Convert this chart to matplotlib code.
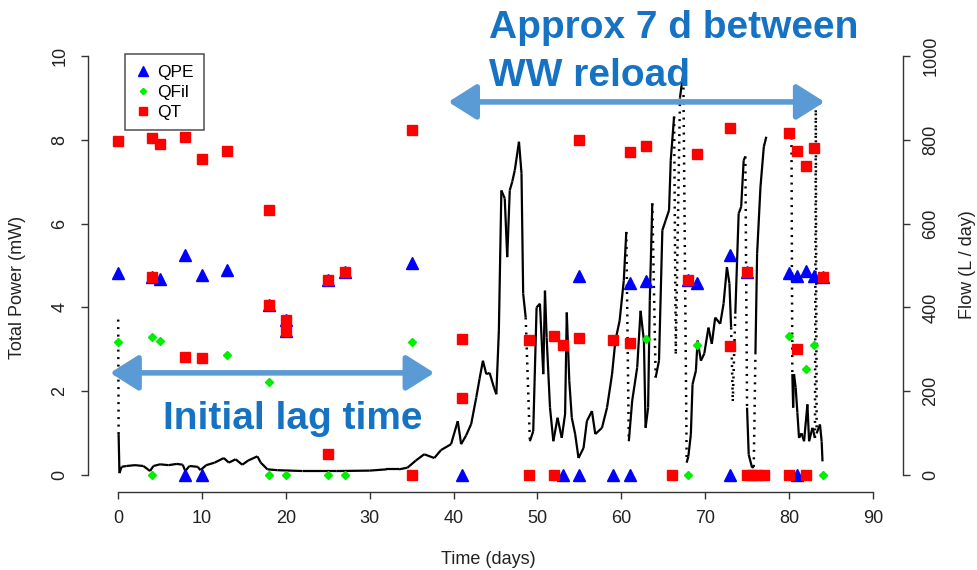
import matplotlib
matplotlib.use("Agg")
import matplotlib.pyplot as plt
from matplotlib.collections import LineCollection
from matplotlib.lines import Line2D

plt.rcParams['font.family'] = ['Liberation Sans', 'DejaVu Sans']

# Scatter series (day, total power in mW)
qpe_day = [0, 4, 5, 8, 8, 10, 10, 13, 18, 20, 20, 25, 27, 35, 41, 53, 55, 55,
           59, 61, 61, 63, 68, 69, 73, 73, 75, 80, 81, 81, 82, 83, 84]
qpe_val = [4.81, 4.72, 4.68, 5.24, 0, 4.78, 0, 4.90, 4.07, 3.71, 3.44, 4.66, 4.84, 5.06, 0, 0, 4.74, 0,
           0, 4.58, 0, 4.62, 4.66, 4.58, 5.24, 0, 4.84, 4.82, 4.74, 0, 4.86, 4.74, 4.72]

qfil_day = [0, 4, 4, 5, 13, 18, 18, 20, 25, 27, 35, 63, 68, 69, 80, 82, 83, 84]
qfil_val = [3.18, 3.30, 0, 3.20, 2.87, 2.23, 0, 0, 0, 0, 3.18, 3.24, 0, 3.10, 3.33, 2.54, 3.10, 0]

qt_day = [0, 4, 4, 5, 8, 8, 10, 10, 13, 18, 18, 20, 20, 25, 25, 27, 35, 35,
          41, 41, 49, 49, 52, 52, 53, 55, 55, 59, 61, 61, 63, 66, 68, 69,
          73, 73, 75, 75, 75.6, 76.2, 77, 80, 80, 81, 81, 82, 82, 83, 84]
qt_val = [7.97, 8.05, 4.72, 7.89, 8.07, 2.82, 7.54, 2.80, 7.74, 6.32, 4.07, 3.71, 3.44, 4.66, 0.50, 4.84, 8.23, 0,
          3.25, 1.83, 3.22, 0, 3.32, 0, 3.11, 7.99, 3.27, 3.22, 7.71, 3.16, 7.85, 0, 4.66, 7.66,
          8.28, 3.07, 4.84, 0, 0, 0, 0, 8.16, 0, 7.73, 3.01, 7.37, 0, 7.81, 4.72]

# Flow series (day, L/day)
flow_day = [0.0, 0.05, 0.15, 0.4, 1.0, 2.0, 3.0, 3.8, 4.2, 5.0, 6.0, 7.0, 7.7, 8.0, 8.5, 9.5, 9.8,
            10.5, 11.5, 12.6, 13.2, 14.0, 14.8, 15.5, 16.6, 17.0, 17.8, 19.0, 22.0, 26.0, 30.0,
            32.0, 33.5, 34.5, 35.5, 36.5, 37.7, 38.5, 39.7, 40.5, 40.9, 41.5, 42.1, 42.7, 43.1,
            43.5, 43.9, 44.3, 44.8, 45.1, 45.4, 45.7, 46.1, 46.4, 46.7, 47.0, 47.3, 47.8, 48.1,
            48.3, 48.6, 49.1, 49.5, 49.9, 50.3, 50.7, 50.9, 51.1, 51.5, 51.9, 52.4, 52.9, 53.3,
            53.5, 53.8, 54.1, 54.5, 54.9, 55.5, 55.9, 56.5, 56.9, 57.7, 58.3, 58.9, 59.3, 59.8,
            60.3, 60.6, 60.9, 61.3, 61.9, 62.3, 62.7, 62.9, 63.2, 63.4, 63.7, 64.1, 64.5, 64.9,
            65.3, 65.7, 65.9, 66.3, 66.5, 67.0, 67.4, 67.8, 68.0, 68.3, 68.5, 68.9, 69.1, 69.5,
            69.9, 70.4, 70.8, 71.2, 71.8, 72.2, 72.6, 72.9, 73.1, 73.3, 73.6, 74.0, 74.3, 74.6,
            74.8, 75.0, 75.2, 75.6, 75.8, 76.0, 76.2, 76.6, 77.0, 77.3, 80.3, 80.4, 80.5, 80.6,
            80.8, 81.0, 81.2, 81.5, 81.8, 82.2, 82.4, 82.8, 83.1, 83.2, 83.3, 83.7, 83.9, 84.0]
flow_val = [371, 98, 5, 20, 22, 24, 22, 10, 22, 26, 24, 27, 25, 10, 22, 20, 12,
            24, 30, 41, 30, 38, 25, 35, 45, 30, 14, 12, 10, 10, 11,
            14, 14, 18, 35, 50, 41, 60, 74, 129, 74, 95, 122, 185, 230,
            273, 241, 244, 210, 193, 344, 679, 660, 520, 679, 700, 727, 795, 720,
            433, 376, 81, 105, 400, 409, 241, 440, 328, 161, 81, 137, 89, 146,
            388, 225, 137, 98, 41, 65, 129, 153, 98, 113, 161, 241, 321, 368,
            464, 580, 81, 177, 257, 392, 321, 113, 161, 416, 648, 233, 273, 584,
            608, 632, 751, 855, 290, 900, 960, 30, 45, 98, 217, 249, 321, 273,
            290, 352, 313, 376, 361, 409, 496, 457, 352, 177, 385, 624, 640, 751,
            760, 161, 49, 18, 20, 289, 528, 687, 783, 807, 805, 241, 161, 241,
            209, 150, 89, 100, 81, 169, 81, 113, 89, 870, 100, 121, 80, 33]
# segments starting at these days are sparse (drawn dotted); the gap one is not drawn
dotted_from = [0.0, 48.6, 60.6, 63.7, 66.3, 66.5, 67.4, 73.1, 73.3, 74.8, 75.8, 80.3, 83.1, 83.2]
gap_from = [77.3]

BLUE_TXT = '#1673C4'
ARROW = '#5B9BD5'
AX_COL = '#333333'

fig = plt.figure(figsize=(9.78, 5.70), dpi=100)
ax = fig.add_axes([88 / 978, 78 / 570, 815 / 978, 453 / 570])
ax2 = ax.twinx()
ax.set_zorder(ax2.get_zorder() + 1)
ax.patch.set_visible(False)

# flow line on the right axis
solid, dotted = [], []
for i in range(len(flow_day) - 1):
    seg = [(flow_day[i], flow_val[i]), (flow_day[i + 1], flow_val[i + 1])]
    if flow_day[i] in gap_from:
        continue
    if flow_day[i] in dotted_from:
        dotted.append(seg)
    else:
        solid.append(seg)
ax2.add_collection(LineCollection(solid, colors='black', linewidths=1.6))
ax2.add_collection(LineCollection(dotted, colors='black', linewidths=1.8, linestyles=[(0, (0.8, 2.2))]))

ax.plot(qpe_day, qpe_val, '^', color='#0000FF', ms=8, ls='none')
ax.plot(qfil_day, qfil_val, 'D', color='#00EE00', ms=3.6, ls='none')
ax.plot(qt_day, qt_val, 's', color='#FF0000', ms=6.5, ls='none')

ax.set_xlim(-3.6, 93.6)
ax.set_ylim(-0.4, 10.4)
ax2.set_ylim(-40, 1040)
ax.set_xticks(range(0, 91, 10))
ax.set_yticks(range(0, 11, 2))
ax2.set_yticks(range(0, 1001, 200))

for a in (ax, ax2):
    for s in a.spines.values():
        s.set_visible(False)
ax.spines['left'].set_visible(True)
ax.spines['bottom'].set_visible(True)
ax2.spines['right'].set_visible(True)
ax.spines['left'].set_bounds(0, 10)
ax.spines['bottom'].set_bounds(0, 90)
ax2.spines['right'].set_bounds(0, 1000)
for s in (ax.spines['left'], ax.spines['bottom'], ax2.spines['right']):
    s.set_color(AX_COL)
    s.set_linewidth(1.0)

ax.tick_params(axis='x', length=5, width=1, color=AX_COL, labelsize=13, pad=8, labelcolor='#222222')
ax.tick_params(axis='y', length=5, width=1, color=AX_COL, labelsize=13, pad=9, labelcolor='#222222')
ax2.tick_params(axis='y', length=5, width=1, color=AX_COL, labelsize=13, pad=9, labelcolor='#222222')
for lab in ax.get_yticklabels():
    lab.set_rotation(90)
    lab.set_va('center')
for lab in ax2.get_yticklabels():
    lab.set_rotation(90)
    lab.set_va('center')

fig.text(18 / 978, 1 - 287 / 570, 'Total Power (mW)', rotation=90, ha='center', va='center',
         fontsize=13, color='#222222')
fig.text(968 / 978, 1 - 265 / 570, 'Flow (L / day)', rotation=90, ha='center', va='center',
         fontsize=13, color='#222222')
fig.text(488 / 978, 1 - 560 / 570, 'Time (days)', ha='center', va='center',
         fontsize=13, color='#222222')

handles = [Line2D([], [], marker='^', color='#0000FF', ls='none', ms=7),
           Line2D([], [], marker='D', color='#00EE00', ls='none', ms=3.2),
           Line2D([], [], marker='s', color='#FF0000', ls='none', ms=6)]
leg = ax.legend(handles, ['QPE', 'QFil', 'QT'], loc='upper left', bbox_to_anchor=(0.045, 0.966),
                frameon=True, fancybox=False, edgecolor='#222222', fontsize=12.5,
                handlelength=0.9, handletextpad=0.35, labelspacing=0.28, borderpad=0.6,
                borderaxespad=0)
leg.get_frame().set_linewidth(1.1)

# annotations
arrow_kw = dict(arrowstyle='<|-|>,head_length=0.95,head_width=0.6', color=ARROW, lw=4,
                shrinkA=0, shrinkB=0, mutation_scale=18)
ax.annotate('', xy=(84.25, 8.9), xytext=(39.37, 8.9), arrowprops=arrow_kw, annotation_clip=False)
ax.annotate('', xy=(37.7, 2.44), xytext=(-0.96, 2.44), arrowprops=arrow_kw, annotation_clip=False)

txt_kw = dict(fontsize=28, fontweight='bold', color=BLUE_TXT, ha='left', va='baseline')
ax.text(44.28, 10.43, 'Approx 7 d between', clip_on=False, **txt_kw)
ax.text(44.28, 9.28, 'WW reload', clip_on=False, **txt_kw)
ax.text(5.39, 1.10, 'Initial lag time', clip_on=False, **txt_kw)

fig.savefig('out.png', dpi=100)
